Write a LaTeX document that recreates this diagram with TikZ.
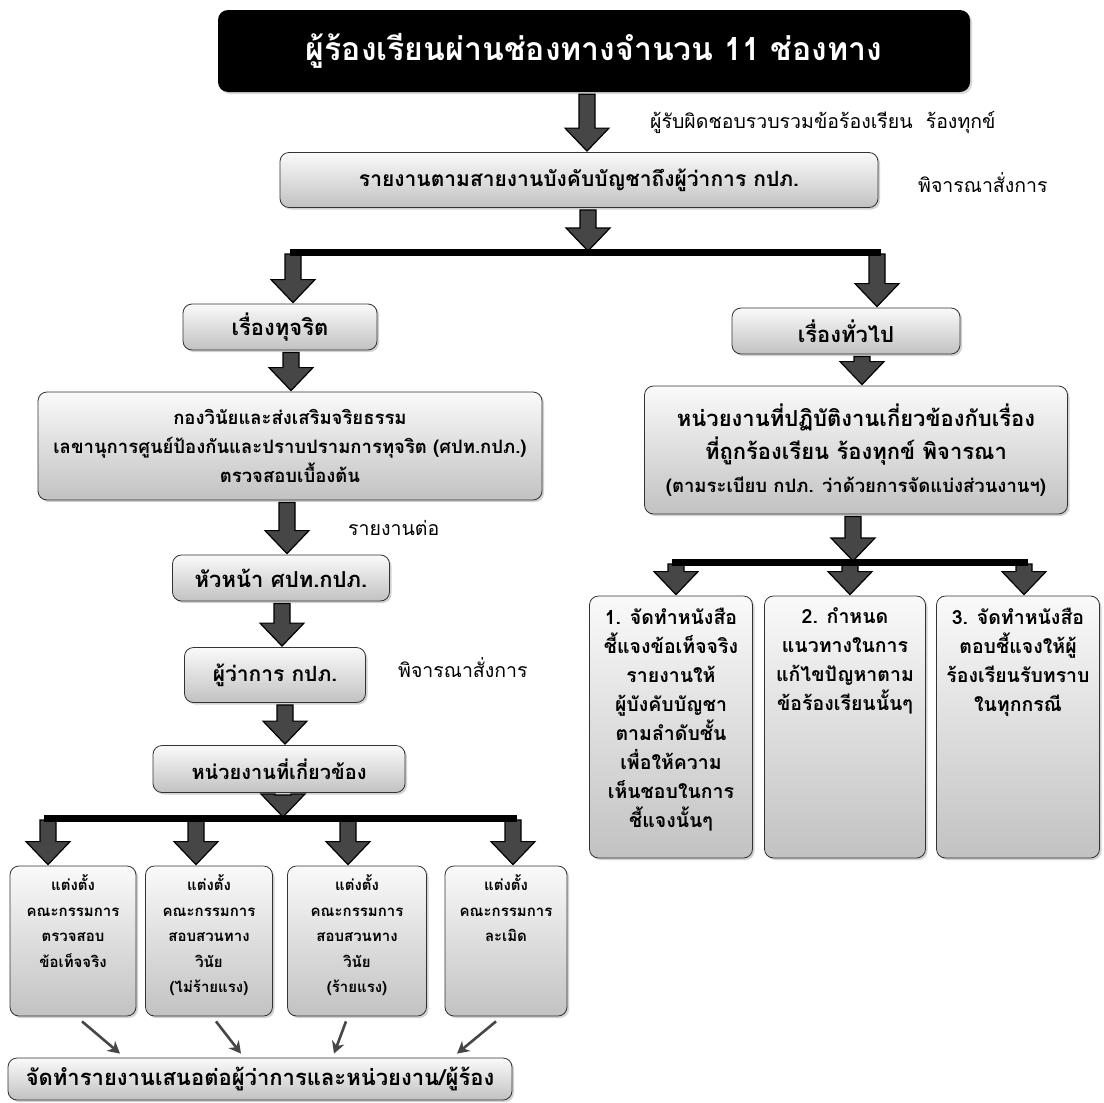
\documentclass[tikz,border=0pt]{standalone}
\usepackage{fontspec}
\setmainfont{Loma}[Script=Thai]
\usetikzlibrary{shadows,calc,arrows.meta}
\tikzset{
  x=1pt, y=-1pt,
  box/.style={draw=black!80, line width=0.8pt, rounded corners=9pt,
    top color=gray!4, bottom color=gray!48,
    drop shadow={shadow xshift=2pt, shadow yshift=-2pt, opacity=0.35},
    align=center, inner sep=0pt},
  darkbox/.style={fill=black, rounded corners=10pt, text=white, align=center,
    drop shadow={shadow xshift=2pt, shadow yshift=-2pt, opacity=0.3}},
  boxtext/.style={align=center, inner sep=0pt, anchor=north},
  lbl/.style={anchor=west, inner sep=0pt, font=\fontsize{19.5}{22}\selectfont},
  blockarrow/.style={fill=gray!55!black, draw=black, line width=1.2pt, line join=miter},
  branchbar/.style={draw=black, line width=7pt},
  thinarrow/.style={draw=gray!55!black, line width=2.6pt, -{Stealth[length=12pt,width=13pt]}},
}
\newcommand\blkarrow[2]{%
  \filldraw[blockarrow] let \p1=#1, \p2=#2 in
   (\x1-8pt,\y1-2pt) -- (\x1-8pt,\y2+24pt) -- (\x1-22pt,\y2+24pt) -- (\x1,\y2+1pt)
   -- (\x1+22pt,\y2+24pt) -- (\x1+8pt,\y2+24pt) -- (\x1+8pt,\y1-2pt) -- cycle;}
\begin{document}
\begin{tikzpicture}
\fill[white] (0,0) rectangle (1104,1103);
\useasboundingbox (0,0) rectangle (1104,1103);

% nodes
\node[darkbox, minimum width=752, minimum height=82, font=\fontsize{32}{36}\selectfont\bfseries] (title) at (594,51) {ผู้ร้องเรียนผ่านช่องทางจำนวน 11 ช่องทาง};
\node[box, minimum width=598, minimum height=55, font=\fontsize{21}{24}\selectfont\bfseries] (report) at (579,180) {รายงานตามสายงานบังคับบัญชาถึงผู้ว่าการ กปภ.};
\node[lbl] (l1) at (650,122) {ผู้รับผิดชอบรวบรวมข้อร้องเรียน\ \ ร้องทุกข์};
\node[lbl] (l2) at (918,183) {พิจารณาสั่งการ};

\node[box, minimum width=194, minimum height=46, font=\fontsize{22}{26}\selectfont\bfseries] (corrupt) at (280,327) {เรื่องทุจริต};
\node[box, minimum width=228, minimum height=46, font=\fontsize{22}{26}\selectfont\bfseries] (general) at (846,331) {เรื่องทั่วไป};

\node[box, minimum width=504, minimum height=108, font=\fontsize{18.5}{29}\selectfont\bfseries] (bigL) at (290,446) {กองวินัยและส่งเสริมจริยธรรม\\เลขานุการศูนย์ป้องกันและปราบปรามการทุจริต (ศปท.กปภ.)\\ตรวจสอบเบื้องต้น};
\node[box, minimum width=423, minimum height=128, font=\fontsize{22}{33}\selectfont\bfseries] (bigR) at (856,450) {หน่วยงานที่ปฏิบัติงานเกี่ยวข้องกับเรื่อง\\ที่ถูกร้องเรียน ร้องทุกข์ พิจารณา\\{\fontsize{18.5}{22}\selectfont(ตามระเบียบ กปภ. ว่าด้วยการจัดแบ่งส่วนงานฯ)}};

\node[lbl] (l3) at (348,528) {รายงานต่อ};
\node[box, minimum width=217, minimum height=46, font=\fontsize{22}{26}\selectfont\bfseries] (head) at (281,578) {หัวหน้า ศปท.กปภ.};
\node[box, minimum width=181, minimum height=55, font=\fontsize{21}{24}\selectfont\bfseries] (gov) at (275,675) {ผู้ว่าการ กปภ.};
\node[lbl] (l4) at (398,668) {พิจารณาสั่งการ};
\node[box, minimum width=252, minimum height=47, font=\fontsize{20}{24}\selectfont\bfseries] (unit) at (279,769) {หน่วยงานที่เกี่ยวข้อง};

% right three boxes
\node[box, minimum width=163, minimum height=262] (r1) at (671,727) {};
\node[box, minimum width=161, minimum height=262] (r2) at (845,727) {};
\node[box, minimum width=163, minimum height=262] (r3) at (1018,727) {};
\begin{scope}[every node/.style={boxtext, font=\fontsize{19.5}{29}\selectfont\bfseries}]
\node (r1t) at ($(r1.north)+(0,12)$) {1. จัดทำหนังสือ\\ชี้แจงข้อเท็จจริง\\รายงานให้\\ผู้บังคับบัญชา\\ตามลำดับชั้น\\เพื่อให้ความ\\เห็นชอบในการ\\ชี้แจงนั้นๆ};
\node (r2t) at ($(r2.north)+(0,12)$) {2. กำหนด\\แนวทางในการ\\แก้ไขปัญหาตาม\\ข้อร้องเรียนนั้นๆ};
\node (r3t) at ($(r3.north)+(0,12)$) {3. จัดทำหนังสือ\\ตอบชี้แจงให้ผู้\\ร้องเรียนรับทราบ\\ในทุกกรณี};
\end{scope}

% left four boxes
\node[box, minimum width=126, minimum height=150] (s1) at (73,941) {};
\node[box, minimum width=127, minimum height=150] (s2) at (209,941) {};
\node[box, minimum width=139, minimum height=150] (s3) at (357,941) {};
\node[box, minimum width=122, minimum height=150] (s4) at (506,941) {};
\begin{scope}[every node/.style={boxtext, font=\fontsize{15}{25.5}\selectfont\bfseries}]
\node (s1t) at ($(s1.north)+(0,9)$) {แต่งตั้ง\\คณะกรรมการ\\ตรวจสอบ\\ข้อเท็จจริง};
\node (s2t) at ($(s2.north)+(0,9)$) {แต่งตั้ง\\คณะกรรมการ\\สอบสวนทาง\\วินัย\\(ไม่ร้ายแรง)};
\node (s3t) at ($(s3.north)+(0,9)$) {แต่งตั้ง\\คณะกรรมการ\\สอบสวนทาง\\วินัย\\(ร้ายแรง)};
\node (s4t) at ($(s4.north)+(0,9)$) {แต่งตั้ง\\คณะกรรมการ\\ละเมิด};
\end{scope}

\node[box, minimum width=504, minimum height=42, font=\fontsize{22}{26}\selectfont\bfseries] (final) at (260,1079) {จัดทำรายงานเสนอต่อผู้ว่าการและหน่วยงาน/ผู้ร้อง};

% branch bar coordinates
\coordinate (topbarL) at (290,252);
\coordinate (topbarR) at (881,252);
\coordinate (rbarL) at (672,562);
\coordinate (rbarR) at (1028,562);
\coordinate (lbarL) at (44,818);
\coordinate (lbarR) at (517,818);

% block arrows
\blkarrow{(587,0 |- title.south)}{(587,0 |- report.north)}
\blkarrow{(588,0 |- report.south)}{(588,0 |- topbarL)}
\blkarrow{(293,0 |- topbarL)}{(293,0 |- corrupt.north)}
\blkarrow{(877,0 |- topbarL)}{(877,0 |- general.north)}
\blkarrow{(291,0 |- corrupt.south)}{(291,0 |- bigL.north)}
\blkarrow{(862,0 |- general.south)}{(862,0 |- bigR.north)}
\blkarrow{(287,0 |- bigL.south)}{(287,0 |- head.north)}
\blkarrow{(282,0 |- head.south)}{(282,0 |- gov.north)}
\blkarrow{(285,0 |- gov.south)}{(285,0 |- unit.north)}
\blkarrow{(283,0 |- unit.south)}{(283,0 |- lbarL)}
\blkarrow{(853,0 |- bigR.south)}{(853,0 |- rbarL)}
\blkarrow{(676,0 |- rbarL)}{(676,0 |- r1.north)}
\blkarrow{(850,0 |- rbarL)}{(850,0 |- r2.north)}
\blkarrow{(1024,0 |- rbarL)}{(1024,0 |- r3.north)}
\blkarrow{(48,0 |- lbarL)}{(48,0 |- s1.north)}
\blkarrow{(196,0 |- lbarL)}{(196,0 |- s2.north)}
\blkarrow{(348,0 |- lbarL)}{(348,0 |- s3.north)}
\blkarrow{(513,0 |- lbarL)}{(513,0 |- s4.north)}

% branch bars
\draw[branchbar] (topbarL) -- (topbarR);
\draw[branchbar] (rbarL) -- (rbarR);
\draw[branchbar] (lbarL) -- (lbarR);

% thin arrows
\draw[thinarrow] ($(82,0 |- s1.south)+(0,5)$) -- ($(120,0 |- final.north)+(0,-4)$);
\draw[thinarrow] ($(216,0 |- s2.south)+(0,5)$) -- ($(241,0 |- final.north)+(0,-4)$);
\draw[thinarrow] ($(346,0 |- s3.south)+(0,5)$) -- ($(334,0 |- final.north)+(0,-4)$);
\draw[thinarrow] ($(496,0 |- s4.south)+(0,5)$) -- ($(457,0 |- final.north)+(0,-4)$);
\end{tikzpicture}
\end{document}
